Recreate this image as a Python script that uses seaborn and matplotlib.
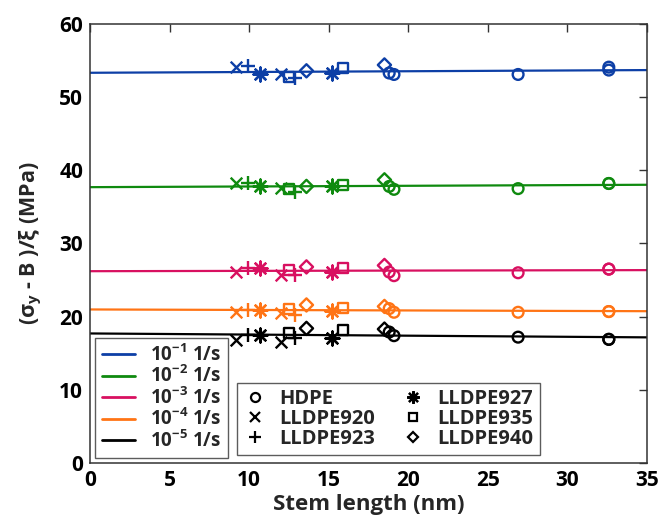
import numpy as np
import pandas as pd
import matplotlib
matplotlib.use("Agg")
import matplotlib.pyplot as plt
from matplotlib.lines import Line2D
import seaborn as sns

# Stem lengths (nm) of each sample, grouped by polyethylene grade
materials = ["HDPE", "LLDPE920", "LLDPE923", "LLDPE927", "LLDPE935", "LLDPE940"]
stem_hdpe = [18.8, 19.1, 26.9, 32.6, 32.6]
stem_920 = [9.2, 12.0]
stem_923 = [9.9, 12.9]
stem_927 = [10.7, 15.2]
stem_935 = [12.5, 15.9]
stem_940 = [13.6, 18.5]

# Strain rates (1/s) and the normalised stress (MPa) at each rate
rate_labels = ["10$^{\\mathregular{-1}}$ 1/s", "10$^{\\mathregular{-2}}$ 1/s",
               "10$^{\\mathregular{-3}}$ 1/s", "10$^{\\mathregular{-4}}$ 1/s",
               "10$^{\\mathregular{-5}}$ 1/s"]

r1_hdpe, r1_920, r1_923 = [53.3, 53.1, 53.1, 54.1, 53.7], [54.1, 53.2], [54.2, 52.6]
r1_927, r1_935, r1_940 = [53.2, 53.3], [52.8, 54.0], [53.6, 54.4]

r2_hdpe, r2_920, r2_923 = [37.8, 37.4, 37.5, 38.2, 38.2], [38.3, 37.6], [38.3, 37.0]
r2_927, r2_935, r2_940 = [37.8, 37.8], [37.5, 38.0], [37.8, 38.7]

r3_hdpe, r3_920, r3_923 = [26.1, 25.6, 26.0, 26.5, 26.5], [26.1, 25.7], [26.6, 25.7]
r3_927, r3_935, r3_940 = [26.6, 26.1], [26.4, 26.6], [26.8, 27.0]

r4_hdpe, r4_920, r4_923 = [21.1, 20.6, 20.6, 20.7, 20.7], [20.7, 20.5], [20.9, 20.2]
r4_927, r4_935, r4_940 = [20.9, 20.8], [21.1, 21.2], [21.6, 21.4]

r5_hdpe, r5_920, r5_923 = [17.9, 17.4, 17.2, 16.9, 16.9], [16.8, 16.6], [17.5, 17.1]
r5_927, r5_935, r5_940 = [17.5, 17.1], [17.8, 18.2], [18.4, 18.3]

stems = [stem_hdpe, stem_920, stem_923, stem_927, stem_935, stem_940]
stress = [
    [r1_hdpe, r1_920, r1_923, r1_927, r1_935, r1_940],
    [r2_hdpe, r2_920, r2_923, r2_927, r2_935, r2_940],
    [r3_hdpe, r3_920, r3_923, r3_927, r3_935, r3_940],
    [r4_hdpe, r4_920, r4_923, r4_927, r4_935, r4_940],
    [r5_hdpe, r5_920, r5_923, r5_927, r5_935, r5_940],
]

rows = []
for ri, rate in enumerate(rate_labels):
    for mi, mat in enumerate(materials):
        for x, y in zip(stems[mi], stress[ri][mi]):
            rows.append({"rate": rate, "material": mat, "stem": x, "stress": y})
df = pd.DataFrame(rows)

rate_colors = ["#0d3fa6", "#0f8a0f", "#d81060", "#ff7415", "#000000"]
mat_markers = {"HDPE": "o", "LLDPE920": "x", "LLDPE923": "+",
               "LLDPE927": (8, 2, 0), "LLDPE935": "s", "LLDPE940": "D"}
mat_sizes = {"HDPE": 60, "LLDPE920": 70, "LLDPE923": 100,
             "LLDPE927": 100, "LLDPE935": 50, "LLDPE940": 45}
open_markers = ("HDPE", "LLDPE935", "LLDPE940")

sns.set_theme(style="white")
plt.rcParams["font.family"] = ["Open Sans", "DejaVu Sans"]
plt.rcParams["font.weight"] = "bold"
plt.rcParams["mathtext.default"] = "regular"

fig = plt.figure(figsize=(6.59, 5.19), dpi=100)
ax = fig.add_axes([0.1366, 0.1079, 0.9818 - 0.1366, 0.9538 - 0.1079])
ax.set_xlim(0, 35)
ax.set_ylim(0, 60)

for rate, col in zip(rate_labels, rate_colors):
    sub = df[df["rate"] == rate]
    sns.regplot(data=sub, x="stem", y="stress", ax=ax, scatter=False, ci=None,
                truncate=False, color=col, line_kws={"lw": 1.6, "zorder": 2})
    for mat in materials:
        pts = sub[sub["material"] == mat]
        mk = mat_markers[mat]
        if mat in open_markers:
            sns.scatterplot(data=pts, x="stem", y="stress", ax=ax, marker=mk,
                            s=mat_sizes[mat], facecolor="none", edgecolor=col,
                            linewidth=1.7, zorder=3, legend=False)
        else:
            sns.scatterplot(data=pts, x="stem", y="stress", ax=ax, marker=mk,
                            s=mat_sizes[mat], color=col, linewidth=1.7,
                            zorder=3, legend=False)

ax.set_xticks(np.arange(0, 36, 5))
ax.set_yticks(np.arange(0, 61, 10))
ax.tick_params(direction="in", length=6, width=1, colors="#333333",
               top=True, right=True, labelsize=15, labelcolor="black", pad=5)
for lab in ax.get_xticklabels() + ax.get_yticklabels():
    lab.set_fontweight("bold")
for sp in ax.spines.values():
    sp.set_color("#333333")
    sp.set_linewidth(1.1)

ax.set_xlabel("Stem length (nm)", fontsize=16, fontweight="bold", labelpad=2)
ax.set_ylabel("(σ$_{\\mathregular{y}}$ - B )/ξ (MPa)", fontsize=15.5,
              fontweight="bold", labelpad=11)

rate_handles = [Line2D([], [], color=c, lw=2) for c in rate_colors]
leg1 = ax.legend(rate_handles, rate_labels,
                 loc="lower left", bbox_to_anchor=(0.009, 0.011), borderaxespad=0,
                 frameon=True, fancybox=False, edgecolor="#333333",
                 handlelength=1.8, handletextpad=0.8, labelspacing=0.0,
                 borderpad=0.35, prop={"size": 13.5, "weight": "bold"})
leg1.get_frame().set_linewidth(1.0)
ax.add_artist(leg1)

mat_handles = []
for mat in materials:
    mk = mat_markers[mat]
    mat_handles.append(Line2D([], [], ls="", marker=mk, color="black",
                              mfc="none" if mat in open_markers else "black",
                              mec="black", mew=1.6,
                              ms={"HDPE": 6.5, "LLDPE920": 7, "LLDPE923": 9,
                                  "LLDPE927": 9, "LLDPE935": 5.5, "LLDPE940": 5.5}[mat]))
leg2 = ax.legend(mat_handles, materials, ncol=2, loc="lower left",
                 bbox_to_anchor=(0.264, 0.018), borderaxespad=0, frameon=True,
                 fancybox=False, edgecolor="#333333", handlelength=1.2,
                 handletextpad=0.6, labelspacing=0.0, columnspacing=1.3,
                 borderpad=0.3, prop={"size": 14.5, "weight": "bold"})
leg2.get_frame().set_linewidth(1.0)

fig.savefig("out.png", dpi=100, facecolor="white")
